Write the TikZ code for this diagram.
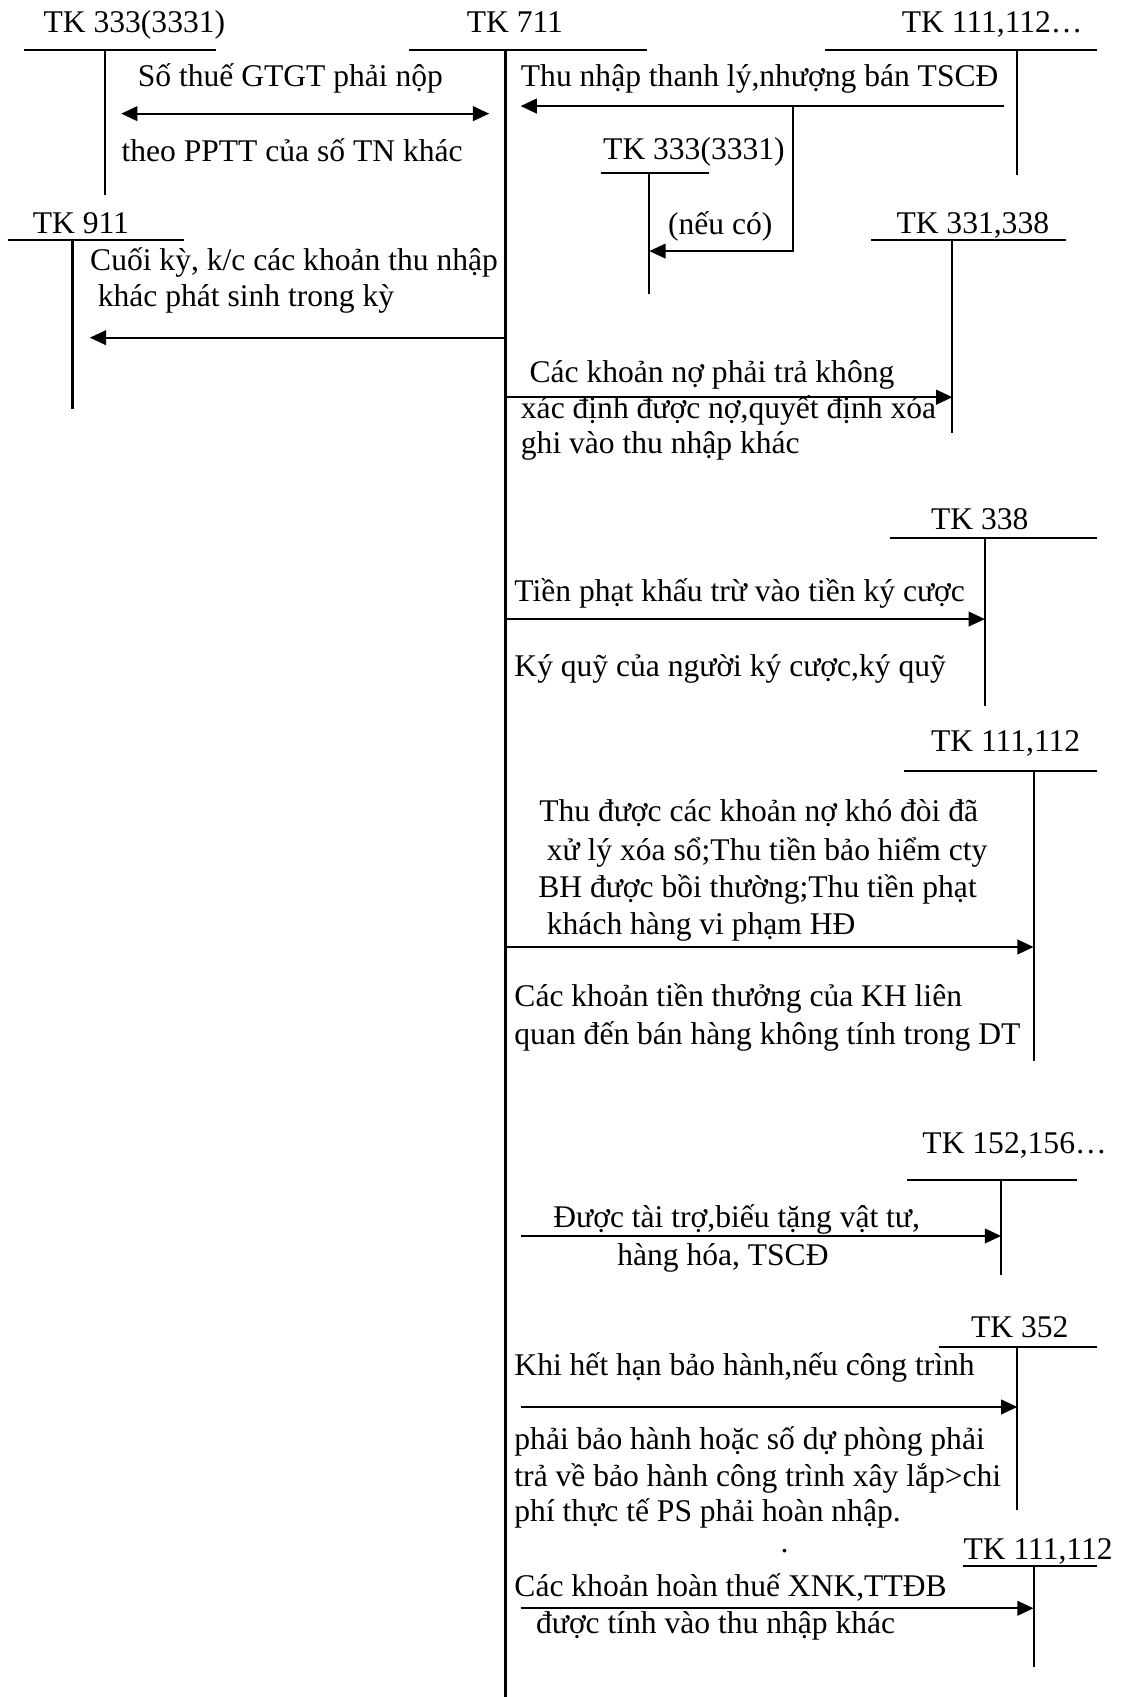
\documentclass[tikz,border=0pt]{standalone}
\usepackage{fontspec}
\setmainfont{Liberation Serif}
\usetikzlibrary{arrows.meta}

\tikzset{
  txt/.style={anchor=mid west, inner sep=0pt},
  tline/.style={line width=1.1pt},
  arr/.style={line width=1.1pt, -{Triangle[length=0.3cm,width=0.27cm]}},
  darr/.style={line width=1.1pt, {Triangle[length=0.3cm,width=0.27cm]}-{Triangle[length=0.3cm,width=0.27cm]}}
}

\begin{document}
\begin{tikzpicture}[x=0.02cm, y=-0.02cm, font=\fontsize{16.6}{19}\selectfont]
\useasboundingbox (0,0) rectangle (1036,1568);

\node[txt] (tk333) at (40,26) {TK 333(3331)};
\draw[tline] (22,46) -- (200,46) (97,46) -- (97,180);
\node[txt] (tk711) at (431,26) {TK 711};
\draw[tline] (378,46) -- (598,46);
\draw[line width=1.4pt] (467,46) -- (467,1568);
\node[txt] (tk111a) at (833,26) {TK 111,112…};
\draw[tline] (762,46) -- (1014,46) (940,46) -- (940,162);
\node[txt] (tk3331) at (557,143) {TK 333(3331)};
\draw[tline] (555,160) -- (655,160) (600,160) -- (600,272);
\node[txt] (tk911) at (30,212) {TK 911};
\draw[tline] (7,222) -- (170,222) (67,222) -- (67,378);
\node[txt] (tk331) at (828,212) {TK 331,338};
\draw[tline] (805,222) -- (985,222) (880,222) -- (880,400);
\node[txt] (tk338) at (860,485) {TK 338};
\draw[tline] (822,497) -- (1014,497) (910,497) -- (910,652);
\node[txt] (tk111b) at (860,690) {TK 111,112};
\draw[tline] (835,712) -- (1014,712) (955,712) -- (955,980);
\node[txt] (tk152) at (852,1062) {TK 152,156…};
\draw[tline] (838,1090) -- (995,1090) (925,1090) -- (925,1178);
\node[txt] (tk352) at (897,1232) {TK 352};
\draw[tline] (868,1245) -- (1014,1245) (940,1245) -- (940,1395);
\node[txt] (tk111c) at (890,1437) {TK 111,112};
\draw[tline] (890,1447) -- (1014,1447) (955,1447) -- (955,1540);

\node[txt] (gtgt) at (127,76) {Số thuế GTGT phải nộp};
\node[txt] (pptt) at (112,145) {theo PPTT của số TN khác};
\coordinate (gtgtL) at (112,105);
\coordinate (gtgtR) at (452,105);
\draw[darr] (gtgtL) -- (gtgtR);

\node[txt] (thanhly) at (481,76) {Thu nhập thanh lý,nhượng bán TSCĐ};
\coordinate (thanhlyS) at (928,98);
\coordinate (thanhlyE) at (481,98);
\coordinate (thueS) at (733,98);
\coordinate (thueE) at (600,232);
\draw[arr] (thanhlyS) -- (thanhlyE);
\draw[arr] (thueS) |- (thueE);
\node[txt] (neuco) at (617,213) {(nếu có)};

\node[txt] (kc1) at (83,246) {Cuối kỳ, k/c các khoản thu nhập};
\node[txt] (kc2) at (90,279) {khác phát sinh trong kỳ};
\coordinate (kcS) at (467,312);
\coordinate (kcE) at (83,312);
\draw[arr] (kcS) -- (kcE);

\node[txt] (no1) at (489,349) {Các khoản nợ phải trả không};
\node[txt] (no2) at (481,383) {xác định được nợ,quyết định xóa};
\node[txt] (no3) at (481,415) {ghi vào thu nhập khác};
\coordinate (noS) at (467,367);
\coordinate (noE) at (880,367);
\draw[arr] (noS) -- (noE);

\node[txt] (phat1) at (475,552) {Tiền phạt khấu trừ vào tiền ký cược};
\node[txt] (phat2) at (475,621) {Ký quỹ của người ký cược,ký quỹ};
\coordinate (phatS) at (467,572);
\coordinate (phatE) at (910,572);
\draw[arr] (phatS) -- (phatE);

\node[txt] (thu1) at (498,755) {Thu được các khoản nợ khó đòi đã};
\node[txt] (thu2) at (505,791) {xử lý xóa sổ;Thu tiền bảo hiểm cty};
\node[txt] (thu3) at (497,825) {BH được bồi thường;Thu tiền phạt};
\node[txt] (thu4) at (505,859) {khách hàng vi phạm HĐ};
\coordinate (thuS) at (467,875);
\coordinate (thuE) at (955,875);
\draw[arr] (thuS) -- (thuE);
\node[txt] (thuong1) at (475,926) {Các khoản tiền thưởng của KH liên};
\node[txt] (thuong2) at (475,961) {quan đến bán hàng không tính trong DT};

\node[txt] (tt1) at (511,1130) {Được tài trợ,biếu tặng vật tư,};
\node[txt] (tt2) at (570,1165) {hàng hóa, TSCĐ};
\coordinate (ttS) at (481,1142);
\coordinate (ttE) at (925,1142);
\draw[arr] (ttS) -- (ttE);

\node[txt] (bh1) at (475,1267) {Khi hết hạn bảo hành,nếu công trình};
\coordinate (bhS) at (481,1300);
\coordinate (bhE) at (940,1300);
\draw[arr] (bhS) -- (bhE);
\node[txt] (bh2) at (475,1335) {phải bảo hành hoặc số dự phòng phải};
\node[txt] (bh3) at (475,1369) {trả về bảo hành công trình xây lắp>chi};
\node[txt] (bh4) at (475,1402) {phí thực tế PS phải hoàn nhập.};
\node[txt] (dot) at (721,1430) {.};

\node[txt] (ht1) at (475,1471) {Các khoản hoàn thuế XNK,TTĐB};
\node[txt] (ht2) at (495,1505) {được tính vào thu nhập khác};
\coordinate (htS) at (481,1486);
\coordinate (htE) at (955,1486);
\draw[arr] (htS) -- (htE);
\end{tikzpicture}
\end{document}
